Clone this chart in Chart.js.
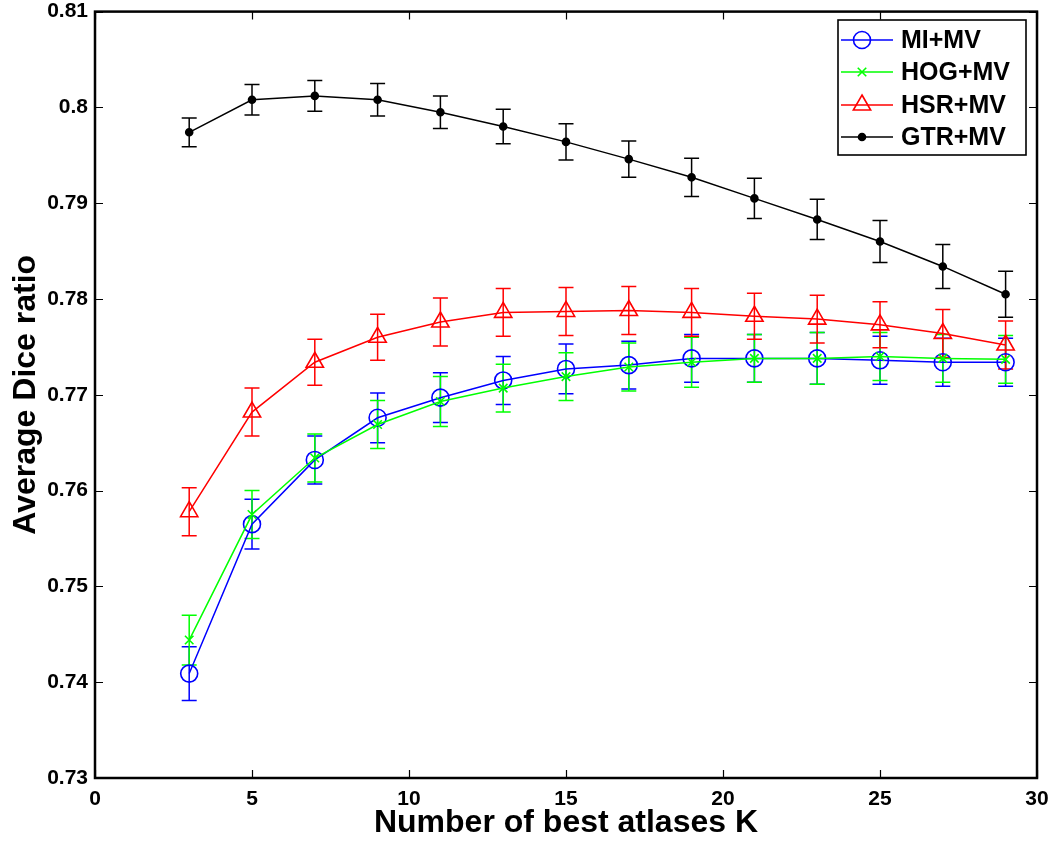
<!DOCTYPE html>
<html>
<head>
<meta charset="utf-8">
<script src="https://cdn.jsdelivr.net/npm/chart.js@4"></script>
<style>
  html, body { margin: 0; padding: 0; background: #fff; }
  #wrap { width: 1050px; height: 845px; }
</style>
</head>
<body>
<div id="wrap"><canvas id="chart"></canvas></div>
<script>
// number of best atlases K
const kValues = [3, 5, 7, 9, 11, 13, 15, 17, 19, 21, 23, 25, 27, 29];

// mean Dice ratio and error bar half-length
const miMean  = [0.7409, 0.7565, 0.7632, 0.7676, 0.7697, 0.7715, 0.7727, 0.7731, 0.7738, 0.7738, 0.7738, 0.7736, 0.7734, 0.7734];
const miErr   = [0.0028, 0.0026, 0.0025, 0.0026, 0.0026, 0.0025, 0.0026, 0.0025, 0.0025, 0.0025, 0.0027, 0.0025, 0.0025, 0.0025];
const hogMean = [0.7444, 0.7575, 0.7634, 0.7669, 0.7693, 0.7707, 0.7719, 0.7729, 0.7734, 0.7738, 0.7738, 0.7740, 0.7738, 0.7737];
const hogErr  = [0.0026, 0.0025, 0.0025, 0.0025, 0.0026, 0.0025, 0.0025, 0.0025, 0.0026, 0.0025, 0.0027, 0.0025, 0.0025, 0.0025];
const hsrMean = [0.7578, 0.7682, 0.7734, 0.7760, 0.7776, 0.7786, 0.7787, 0.7788, 0.7786, 0.7782, 0.7779, 0.7773, 0.7764, 0.7752];
const hsrErr  = [0.0025, 0.0025, 0.0024, 0.0024, 0.0025, 0.0025, 0.0025, 0.0025, 0.0025, 0.0024, 0.0025, 0.0024, 0.0025, 0.0025];
const gtrMean = [0.7974, 0.8008, 0.8012, 0.8008, 0.7995, 0.7980, 0.7964, 0.7946, 0.7927, 0.7905, 0.7883, 0.7860, 0.7834, 0.7805];
const gtrErr  = [0.0015, 0.0016, 0.0016, 0.0017, 0.0017, 0.0018, 0.0019, 0.0019, 0.0020, 0.0021, 0.0021, 0.0022, 0.0023, 0.0024];

const seriesLabels = ['MI+MV', 'HOG+MV', 'HSR+MV', 'GTR+MV'];

const FONT = '"Liberation Sans", Arial, Helvetica, sans-serif';

function toPoints(means, errs) {
    return kValues.map((k, i) => ({ x: k, y: means[i], err: errs[i] }));
}

function makeSet(label, means, errs, color, style, radius, filled, order) {
    return {
        label: label,
        data: toPoints(means, errs),
        showLine: true,
        borderColor: color,
        backgroundColor: filled ? color : 'rgba(0,0,0,0)',
        borderWidth: 1.5,
        pointStyle: style,
        pointRadius: radius,
        pointBorderWidth: 1.6,
        pointBorderColor: color,
        pointBackgroundColor: filled ? color : 'rgba(0,0,0,0)',
        order: order
    };
}

// error bars, inward ticks, the box and the legend are drawn here
const matlabLook = {
    id: 'matlabLook',
    beforeDatasetsDraw(chart) {
        const ctx = chart.ctx;
        const xs = chart.scales.x, ys = chart.scales.y;
        ctx.save();
        // draw error bars in the same back-to-front order as the datasets
        const sets = chart.data.datasets.map((d, i) => i).sort((a, b) => chart.data.datasets[b].order - chart.data.datasets[a].order);
        sets.forEach(i => {
            const ds = chart.data.datasets[i];
            ctx.strokeStyle = ds.borderColor;
            ctx.lineWidth = 1.5;
            ds.data.forEach(p => {
                const px = xs.getPixelForValue(p.x);
                const top = ys.getPixelForValue(p.y + p.err);
                const bot = ys.getPixelForValue(p.y - p.err);
                const cap = 7.5;
                ctx.beginPath();
                ctx.moveTo(px, top); ctx.lineTo(px, bot);
                ctx.moveTo(px - cap, top); ctx.lineTo(px + cap, top);
                ctx.moveTo(px - cap, bot); ctx.lineTo(px + cap, bot);
                ctx.stroke();
            });
        });
        ctx.restore();
    },
    afterDraw(chart) {
        const ctx = chart.ctx;
        const a = chart.chartArea;
        const xs = chart.scales.x, ys = chart.scales.y;
        const tickLen = 8;
        ctx.save();
        ctx.strokeStyle = '#000';
        ctx.lineWidth = 1.2;
        ctx.beginPath();
        xs.ticks.forEach(t => {
            const px = Math.round(xs.getPixelForValue(t.value)) + 0.5;
            ctx.moveTo(px, a.bottom); ctx.lineTo(px, a.bottom - tickLen);
            ctx.moveTo(px, a.top); ctx.lineTo(px, a.top + tickLen);
        });
        ys.ticks.forEach(t => {
            const py = Math.round(ys.getPixelForValue(t.value)) + 0.5;
            ctx.moveTo(a.left, py); ctx.lineTo(a.left + tickLen, py);
            ctx.moveTo(a.right, py); ctx.lineTo(a.right - tickLen, py);
        });
        ctx.stroke();

        // plot box
        ctx.lineWidth = 2.5;
        ctx.strokeRect(a.left, a.top, a.right - a.left, a.bottom - a.top);

        // legend box in the upper right corner
        const lx = 838, ly = 20, lw = 188, lh = 135;
        ctx.fillStyle = '#fff';
        ctx.fillRect(lx, ly, lw, lh);
        ctx.lineWidth = 1.6;
        ctx.strokeRect(lx, ly, lw, lh);
        const rows = [40, 72, 105, 137];
        chart.data.datasets.forEach((ds, i) => {
            const y = rows[i];
            ctx.strokeStyle = ds.borderColor;
            ctx.lineWidth = 1.5;
            ctx.beginPath();
            ctx.moveTo(lx + 3, y); ctx.lineTo(lx + 55, y);
            ctx.stroke();
            ctx.fillStyle = ds.pointBackgroundColor;
            ctx.lineWidth = ds.pointBorderWidth;
            Chart.helpers.drawPoint(ctx, {
                pointStyle: ds.pointStyle,
                radius: ds.pointRadius,
                borderWidth: ds.pointBorderWidth
            }, lx + 24, y);
            ctx.fillStyle = '#000';
            ctx.font = 'bold 25px ' + FONT;
            ctx.textBaseline = 'middle';
            ctx.textAlign = 'left';
            ctx.fillText(ds.label, lx + 63, y + 1);
        });
        ctx.restore();
    }
};

const datasets = [
    makeSet(seriesLabels[0], miMean, miErr, '#0000ff', 'circle', 8.5, false, 4),
    makeSet(seriesLabels[1], hogMean, hogErr, '#00ff00', 'crossRot', 6, false, 3),
    makeSet(seriesLabels[2], hsrMean, hsrErr, '#ff0000', 'triangle', 10, false, 2),
    makeSet(seriesLabels[3], gtrMean, gtrErr, '#000000', 'circle', 3.5, true, 1)
];

new Chart(document.getElementById('chart'), {
    type: 'scatter',
    data: { datasets: datasets },
    options: {
        responsive: true,
        maintainAspectRatio: false,
        animation: false,
        layout: { padding: { top: 8, right: 13, left: 0, bottom: 0 } },
        plugins: {
            legend: { display: false },
            tooltip: { enabled: false }
        },
        scales: {
            x: {
                type: 'linear',
                min: 0,
                max: 30,
                afterFit: s => { s.height = 67; s.paddingRight = 0; s.paddingLeft = 0; },
                grid: { display: false, drawTicks: false },
                border: { display: false },
                ticks: {
                    stepSize: 5,
                    color: '#000',
                    padding: 9,
                    maxRotation: 0,
                    font: { family: FONT, size: 21, weight: 'bold' }
                },
                title: {
                    display: true,
                    text: 'Number of best atlases K',
                    color: '#000',
                    padding: { top: 0, bottom: 3 },
                    font: { family: FONT, size: 32, weight: 'bold' }
                }
            },
            y: {
                type: 'linear',
                min: 0.73,
                max: 0.81,
                afterFit: s => { s.width = 95; s.paddingTop = 0; s.paddingBottom = 0; },
                grid: { display: false, drawTicks: false },
                border: { display: false },
                ticks: {
                    stepSize: 0.01,
                    color: '#000',
                    padding: 7,
                    font: { family: FONT, size: 21, weight: 'bold' },
                    callback: v => String(Number(v.toFixed(2)))
                },
                title: {
                    display: true,
                    text: 'Average Dice ratio',
                    color: '#000',
                    padding: { top: 7, bottom: 0 },
                    font: { family: FONT, size: 32, weight: 'bold' }
                }
            }
        }
    },
    plugins: [matlabLook]
});
</script>
</body>
</html>
